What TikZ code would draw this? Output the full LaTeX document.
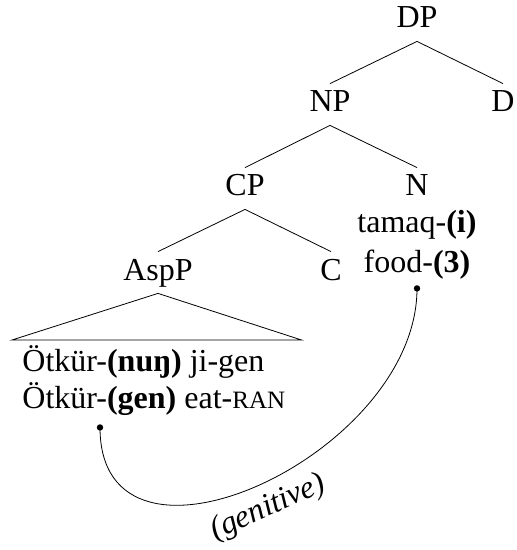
\documentclass[tikz,border=0pt]{standalone}
\usepackage{fontspec}
\setmainfont{Liberation Serif}
\usetikzlibrary{positioning}
\begin{document}
\begin{tikzpicture}[on grid,
    every node/.style={font=\fontsize{16}{18.5}\selectfont},
    cat/.style={inner sep=3pt, text height=11pt, text depth=3.5pt},
    word/.style={inner sep=0pt, align=left},
    gloss/.style={font=\itshape\fontsize{16}{18.5}\selectfont}]
    \useasboundingbox (0,0) rectangle (258.5pt,-275pt);
    \node [cat, anchor=base] (DP) at (208.5pt,-14pt) {DP};
    \node [cat, below left=42pt and 43.5pt of DP] (NP) {NP};
    \node [cat, below right=42pt and 43pt of DP] (D) {D};
    \node [cat, below left=42pt and 42.5pt of NP] (CP) {CP};
    \node [cat, below right=42pt and 43.5pt of NP] (N) {N};
    \node [cat, below left=42pt and 43.5pt of CP] (AspP) {AspP};
    \node [cat, below right=42pt and 43pt of CP] (C) {C};
    \node [word, align=center, anchor=base] (food) at ([yshift=-38pt]N.base) {tamaq-\textbf{(i)}\\[1.5pt]food-\textbf{(3)}};
    \node [word, anchor=base west] (otkur) at ([xshift=-68pt, yshift=-64pt]AspP.base) {Ötkür-\textbf{(nuŋ)} ji-gen\\Ötkür-\textbf{(gen)} eat-{\fontsize{12.5}{14}\selectfont RAN}};
    \coordinate (foodpt) at ([yshift=-4.6pt]food.south);
    \coordinate (genpt) at ([xshift=39pt, yshift=-6pt]otkur.south west);

    \draw (DP.south) -- (NP.north);
    \draw (DP.south) -- (D.north);
    \draw (NP.south) -- (CP.north);
    \draw (NP.south) -- (N.north);
    \draw (CP.south) -- (AspP.north);
    \draw (CP.south) -- (C.north);
    \draw (AspP.south) -- ([xshift=-5pt, yshift=34pt]otkur.base west) -- ([xshift=8pt, yshift=34pt]otkur.base east) -- cycle;

    \fill (foodpt) circle (1.6pt);
    \fill (genpt) circle (1.6pt);
    \draw (genpt) .. controls +(0,-86pt) and +(0,-84pt) .. (foodpt) node [gloss, pos=0.5, sloped, below=1.5pt] (genlbl) {(genitive)};
\end{tikzpicture}
\end{document}
